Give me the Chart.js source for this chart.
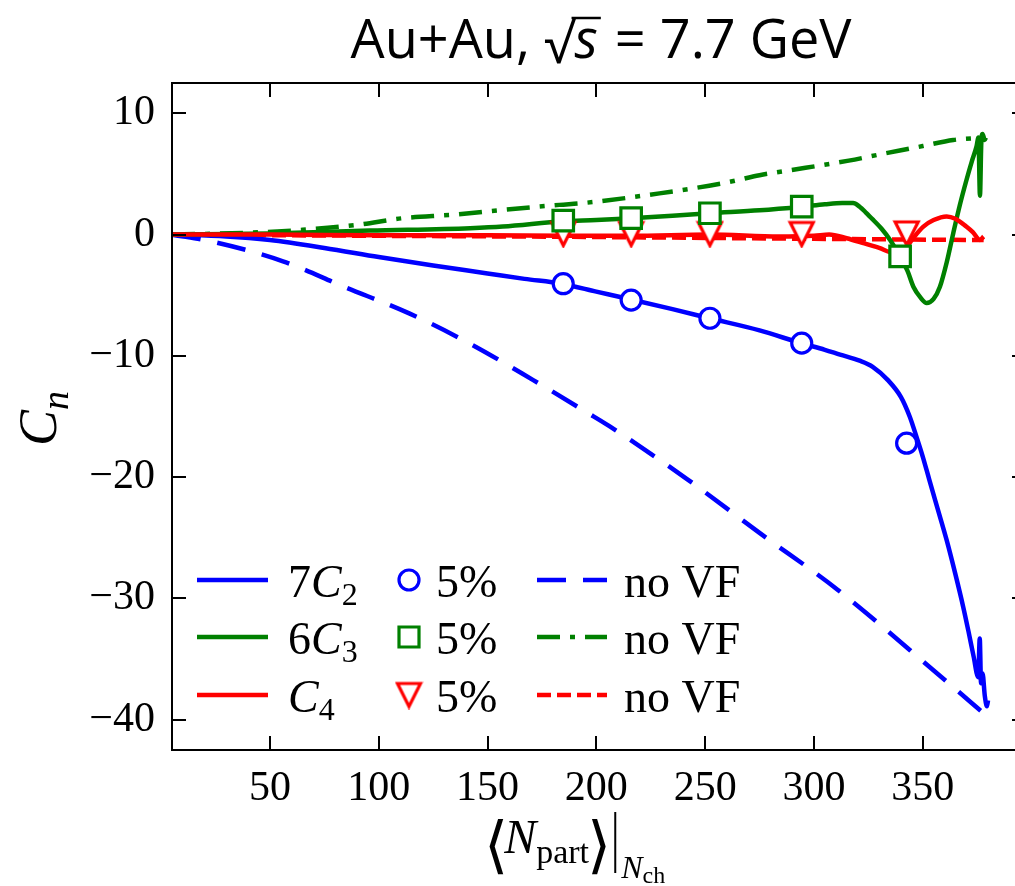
<!DOCTYPE html>
<html>
<head>
<meta charset="utf-8">
<script src="https://cdn.jsdelivr.net/npm/chart.js@4.4.0/dist/chart.umd.min.js"></script>
<style>
  html, body { margin: 0; padding: 0; background: #fff; }
  #wrap { width: 1015px; height: 886px; }
</style>
</head>
<body>
<div id="wrap"><canvas id="myChart" width="1015" height="886"></canvas></div>
<script>
// 7C2, full model (solid blue)
const c2X = [5, 30, 50, 75, 100, 125, 150, 167, 184, 200, 216, 235, 252, 275, 294, 305, 312, 321, 327, 334, 340, 344, 347, 350, 353, 357, 361, 365, 368.6, 371, 373.4, 375.5, 376.2, 376.8, 377.5, 378.5, 379.5, 380];
const c2Y = [0, -0.15, -0.45, -1.1, -1.85, -2.55, -3.2, -3.65, -4.05, -4.7, -5.35, -6.15, -6.9, -7.9, -8.95, -9.5, -9.9, -10.4, -10.9, -12.0, -13.4, -15.0, -16.6, -18.3, -20.2, -22.7, -25.2, -28.0, -30.7, -32.7, -34.8, -36.5, -33.3, -37.0, -36.2, -38.0, -38.9, -38.4];
// 6C3 (solid green)
const c3X = [5, 50, 96, 142, 157, 184.8, 200, 216, 235, 252, 275, 294.4, 305, 313, 318, 321, 324, 327.3, 331, 335, 339.6, 343, 345.7, 349, 351.8, 355, 357.9, 361, 364, 367, 370.1, 372.5, 374.7, 375.6, 376.3, 376.9, 377.5, 378.5, 379];
const c3Y = [0, 0.1, 0.33, 0.53, 0.66, 1.1, 1.2, 1.35, 1.55, 1.76, 2.0, 2.3, 2.5, 2.6, 2.6, 2.3, 1.8, 1.2, 0.5, -0.44, -1.8, -3.0, -4.3, -5.2, -5.65, -5.3, -4.3, -2.3, 0.1, 2.4, 4.5, 6.0, 7.25, 8.0, 3.2, 7.5, 8.3, 7.8, 8.0];
// C4 (solid red)
const c4X = [5, 50, 100, 150, 184.8, 216, 252, 284, 300, 307, 315, 322.7, 330, 336.6, 340, 342.7, 346, 350.3, 355, 361, 365, 370, 373, 376.3, 378];
const c4Y = [0, 0, -0.05, -0.05, -0.1, -0.1, 0, -0.16, -0.1, 0, -0.3, -0.7, -1.1, -1.5, -1.4, -1.0, -0.2, 0.66, 1.2, 1.5, 1.3, 0.66, 0.2, -0.44, -0.16];

// 5% centrality bins (markers)
const binX = [184.8, 216, 252.2, 294.4, 342.6];
const c2BinY = [-4.05, -5.4, -6.9, -8.95, -17.2];
const c3BinX = [184.8, 216, 252.2, 294.4, 339.6];
const c3BinY = [1.15, 1.35, 1.76, 2.3, -1.8];
const c4BinY = [0.05, 0.05, 0.05, 0.05, 0.1];

// no volume fluctuations
const c2NoVfX = [5, 24, 56, 84, 114, 142, 171, 196, 206, 242, 275, 311, 358, 379.5];
const c2NoVfY = [0, -0.6, -2.2, -4.3, -6.5, -9.0, -12.0, -14.7, -15.8, -20.2, -24.6, -29.3, -36.4, -39.7];
const c3NoVfX = [5, 40, 65, 90, 111, 135, 157, 183, 194, 229, 260, 275, 289, 316, 330, 350, 364, 378];
const c3NoVfY = [0, 0.15, 0.39, 0.8, 1.35, 1.65, 2.04, 2.45, 2.6, 3.4, 4.3, 4.9, 5.3, 6.1, 6.6, 7.3, 7.8, 8.0];
const c4NoVfX = [5, 100, 200, 300, 378];
const c4NoVfY = [0, -0.1, -0.2, -0.35, -0.45];

const xTicks = [50, 100, 150, 200, 250, 300, 350];
const yTicks = [-40, -30, -20, -10, 0, 10];

const BLUE = '#0000ff', GREEN = '#008000', RED = '#ff0000';
const SERIF = '"Liberation Serif", "DejaVu Serif", serif';

function pts(xs, ys) { return xs.map((x, i) => ({ x: x, y: ys[i] })); }

// hollow down-triangle marker
function triMarker(size) {
  const cv = document.createElement('canvas');
  cv.width = size + 6; cv.height = size + 6;
  const g = cv.getContext('2d');
  g.strokeStyle = RED; g.fillStyle = '#fff'; g.lineWidth = 3.2; g.lineJoin = 'miter';
  g.beginPath();
  g.moveTo(3, 3); g.lineTo(3 + size, 3); g.lineTo(3 + size / 2, 3 + size); g.closePath();
  g.fill(); g.stroke();
  return cv;
}
const tri = triMarker(23);

function lineSet(xs, ys, color, dash, order) {
  return {
    data: pts(xs, ys), showLine: true, borderColor: color, borderWidth: 4.5,
    borderDash: dash, pointRadius: 0, cubicInterpolationMode: 'monotone', order: order
  };
}
function markSet(xs, ys, color, style, radius) {
  return {
    data: pts(xs, ys), showLine: false, pointStyle: style, pointRadius: radius,
    pointBorderColor: color, pointBackgroundColor: '#fff', pointBorderWidth: 3.2, order: 0
  };
}

const dashBlue = [29, 17], dashDot = [23, 10, 5, 10], dashRed = [14, 6];

function richText(c, x, y, parts) {
  parts.forEach(p => {
    c.font = p.f;
    c.fillText(p.t, x, y + (p.dy || 0));
    x += c.measureText(p.t).width + (p.dx || 0);
  });
  return x;
}

const decor = {
  id: 'decor',
  afterDatasetsDraw(chart) {
    const c = chart.ctx;
    c.save();
    c.fillStyle = '#000';
    c.textBaseline = 'alphabetic';
    c.textAlign = 'left';
    const rows = [580, 637, 695];
    const names = [
      [{ t: '7', f: '46px ' + SERIF }, { t: 'C', f: 'italic 46px ' + SERIF }, { t: '2', f: '32px ' + SERIF, dy: 8 }],
      [{ t: '6', f: '46px ' + SERIF }, { t: 'C', f: 'italic 46px ' + SERIF }, { t: '3', f: '32px ' + SERIF, dy: 8 }],
      [{ t: 'C', f: 'italic 46px ' + SERIF }, { t: '4', f: '32px ' + SERIF, dy: 8 }]
    ];
    const cols = [BLUE, GREEN, RED];
    const dashes = [dashBlue, dashDot, dashRed];
    rows.forEach((ry, i) => {
      c.lineWidth = 4.5; c.strokeStyle = cols[i];
      c.setLineDash([]);
      c.beginPath(); c.moveTo(197, ry); c.lineTo(268, ry); c.stroke();
      c.fillStyle = '#000';
      richText(c, 288, ry + 17, names[i]);
      c.setLineDash(dashes[i]);
      c.beginPath(); c.moveTo(537, ry); c.lineTo(607, ry); c.stroke();
      c.setLineDash([]);
      c.font = '46px ' + SERIF;
      c.fillText('5%', 436, ry + 17);
      c.fillText('no VF', 624, ry + 17);
    });
    // legend markers
    c.lineWidth = 3.2; c.fillStyle = '#fff';
    c.strokeStyle = BLUE;
    c.beginPath(); c.arc(409, rows[0], 10, 0, Math.PI * 2); c.fill(); c.stroke();
    c.strokeStyle = GREEN;
    c.beginPath(); c.rect(399, rows[1] - 10, 20, 20); c.fill(); c.stroke();
    c.drawImage(tri, 409 - tri.width / 2, rows[2] - tri.height / 2);
    c.restore();
  },
  afterDraw(chart) {
    const c = chart.ctx, a = chart.chartArea, xs = chart.scales.x, ys = chart.scales.y;
    c.save();
    c.strokeStyle = '#000'; c.lineWidth = 2;
    c.beginPath();
    c.moveTo(a.right + 2, a.top); c.lineTo(a.left, a.top); c.lineTo(a.left, a.bottom); c.lineTo(a.right + 2, a.bottom);
    xTicks.forEach(v => {
      const px = Math.round(xs.getPixelForValue(v));
      c.moveTo(px, a.bottom); c.lineTo(px, a.bottom - 14);
      c.moveTo(px, a.top); c.lineTo(px, a.top + 14);
    });
    yTicks.forEach(v => {
      const py = Math.round(ys.getPixelForValue(v));
      c.moveTo(a.left, py); c.lineTo(a.left + 14, py);
      c.moveTo(a.right, py); c.lineTo(a.right - 3, py);
    });
    c.stroke();

    // title
    c.fillStyle = '#000';
    c.textBaseline = 'alphabetic';
    const tf = '54px "Open Sans", "Noto Sans", sans-serif';
    const tfi = 'italic 54px "Open Sans", "Noto Sans", sans-serif';
    c.font = tf;
    const p1 = 'Au+Au, ', p2 = '\u221A', p4 = ' = 7.7 GeV';
    const w1 = c.measureText(p1).width, w2 = c.measureText(p2).width, w4 = c.measureText(p4).width;
    c.font = tfi;
    const w3 = c.measureText('s').width + 4;
    let tx = 601 - (w1 + w2 + w3 + w4) / 2;
    const ty = 58;
    c.font = tf; c.fillText(p1, tx, ty); tx += w1;
    c.fillText(p2, tx, ty + 5); tx += w2;
    c.beginPath(); c.lineWidth = 2.5; c.moveTo(tx - 2, 18); c.lineTo(tx + w3, 18); c.stroke();
    c.font = tfi; c.fillText('s', tx + 1, ty); tx += w3;
    c.font = tf; c.fillText(p4, tx, ty);

    // y axis title
    c.save();
    c.translate(56, 446);
    c.rotate(-Math.PI / 2);
    richText(c, 0, 0, [{ t: 'C', f: 'italic 54px ' + SERIF }, { t: 'n', f: 'italic 38px ' + SERIF, dy: 12 }]);
    c.restore();

    // x axis title
    c.font = '62px "DejaVu Serif", serif';
    let ax = 484;
    c.fillText('\u27E8', ax, 866); ax += c.measureText('\u27E8').width - 4;
    ax = richText(c, ax, 853, [{ t: 'N', f: 'italic 48px ' + SERIF }, { t: 'part', f: '34px ' + SERIF, dy: 10 }]);
    c.font = '62px "DejaVu Serif", serif';
    c.fillText('\u27E9', ax - 2, 866); ax += c.measureText('\u27E9').width + 2;
    c.beginPath(); c.lineWidth = 2; c.moveTo(ax, 812); c.lineTo(ax, 873); c.stroke();
    richText(c, ax + 6, 878, [{ t: 'N', f: 'italic 32px ' + SERIF }, { t: 'ch', f: '24px ' + SERIF, dy: 5 }]);
    c.restore();
  }
};

const myChart = new Chart(document.getElementById('myChart').getContext('2d'), {
  type: 'scatter',
  data: {
    datasets: [
      markSet(binX, c2BinY, BLUE, 'circle', 10),
      markSet(c3BinX, c3BinY, GREEN, 'rect', 14.5),
      markSet(binX, c4BinY, RED, tri, 13),
      lineSet(c4X, c4Y, RED, [], 1),
      lineSet(c3X, c3Y, GREEN, [], 2),
      lineSet(c2X, c2Y, BLUE, [], 2),
      lineSet(c4NoVfX, c4NoVfY, RED, dashRed, 3),
      lineSet(c3NoVfX, c3NoVfY, GREEN, dashDot, 3),
      lineSet(c2NoVfX, c2NoVfY, BLUE, dashBlue, 3)
    ]
  },
  options: {
    responsive: false,
    animation: false,
    layout: { autoPadding: false, padding: { top: 83, right: 0, left: 0, bottom: 0 } },
    plugins: { legend: { display: false }, tooltip: { enabled: false } },
    scales: {
      x: {
        type: 'linear', min: 5, max: 392.4,
        grid: { display: false }, border: { display: false },
        afterBuildTicks: s => { s.ticks = xTicks.map(v => ({ value: v })); },
        ticks: { color: '#000', font: { family: SERIF, size: 42 }, padding: 6, maxRotation: 0 },
        afterFit: s => { s.height = 136; s.paddingLeft = 0; s.paddingRight = 0; }
      },
      y: {
        type: 'linear', min: -42.5, max: 12.5,
        grid: { display: false }, border: { display: false },
        afterBuildTicks: s => { s.ticks = yTicks.map(v => ({ value: v })); },
        ticks: {
          color: '#000', font: { family: SERIF, size: 42 }, padding: 9,
          callback: v => v < 0 ? '\u2212' + Math.abs(v) : String(v)
        },
        afterFit: s => { s.width = 172; s.paddingTop = 0; s.paddingBottom = 0; }
      }
    }
  },
  plugins: [decor]
});
</script>
</body>
</html>
